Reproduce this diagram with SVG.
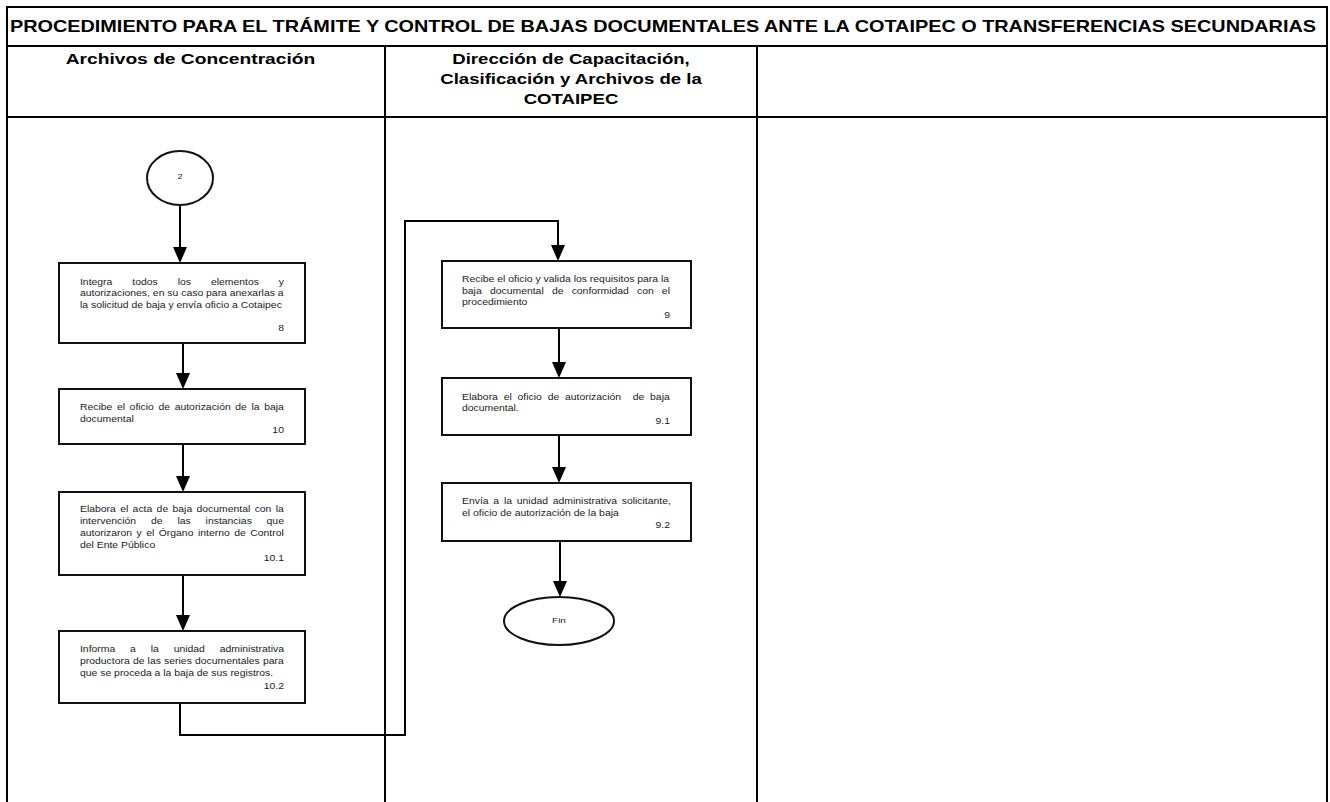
<svg xmlns="http://www.w3.org/2000/svg" width="1330" height="802" viewBox="0 0 1330 802">
<style>
.frame{fill:none;stroke:#000;stroke-width:2}
.box{fill:#fff;stroke:#111;stroke-width:2}
.conn{fill:none;stroke:#000;stroke-width:2}
.t{font-family:"Liberation Sans",Arial,sans-serif;font-size:8.4px;fill:#1a1a1a}
.n{font-family:"Liberation Sans",Arial,sans-serif;font-size:8.4px;fill:#1a1a1a;text-anchor:end}
.h{font-family:"Liberation Sans",Arial,sans-serif;font-weight:bold;fill:#000;text-anchor:middle}
.s{font-family:"Liberation Sans",Arial,sans-serif;fill:#1a1a1a;text-anchor:middle}
</style>
<defs>
<marker id="ah" markerUnits="userSpaceOnUse" viewBox="0 0 16 14" markerWidth="16" markerHeight="14" refX="8" refY="7" orient="auto">
<path d="M0,0 L16,7 L0,14 z" fill="#000"/>
</marker>
</defs>
<rect width="1330" height="802" fill="#fff"/>
<g id="frame">
<path class="frame" d="M7,802 V7 H1327 V802"/>
<line class="frame" x1="7" y1="46" x2="1327" y2="46"/>
<line class="frame" x1="7" y1="117" x2="1327" y2="117"/>
<line class="frame" x1="385" y1="46" x2="385" y2="802"/>
<line class="frame" x1="757" y1="46" x2="757" y2="802"/>
<text class="h" x="663" y="32" font-size="16.5" textLength="1306" lengthAdjust="spacingAndGlyphs">PROCEDIMIENTO PARA EL TRÁMITE Y CONTROL DE BAJAS DOCUMENTALES ANTE LA COTAIPEC O TRANSFERENCIAS SECUNDARIAS</text>
<g transform="matrix(1.24 0 0 1 0 0)">
<text class="h" x="153.6" y="64" font-size="15.5">Archivos de Concentración</text>
<text class="h" x="460.5" y="64" font-size="15">Dirección de Capacitación,</text>
<text class="h" x="460.5" y="84" font-size="15">Clasificación y Archivos de la</text>
<text class="h" x="460.5" y="104" font-size="15">COTAIPEC</text>
</g>
</g>
<g id="connectors">
<path class="conn" d="M180,205 V255" marker-end="url(#ah)"/>
<path class="conn" d="M183,343 V381" marker-end="url(#ah)"/>
<path class="conn" d="M183,444 V484" marker-end="url(#ah)"/>
<path class="conn" d="M183,575 V623" marker-end="url(#ah)"/>
<path class="conn" d="M180,703 V735 H405 V221 H558 V253" marker-end="url(#ah)"/>
<path class="conn" d="M559,328 V370" marker-end="url(#ah)"/>
<path class="conn" d="M559,435 V475" marker-end="url(#ah)"/>
<path class="conn" d="M560,541 V589" marker-end="url(#ah)"/>
</g>
<g id="start">
<ellipse class="box" cx="180" cy="178" rx="33" ry="27"/>
<text class="s" transform="matrix(1.24 0 0 1 0 0)" x="145.2" y="179" font-size="7.5">2</text>
</g>
<g id="step8">
<rect class="box" x="59" y="263" width="246" height="80"/>
<g transform="matrix(1.24 0 0 1 0 0)">
<text class="t" y="285"><tspan x="64.5">Integra</tspan><tspan x="106.7">todos</tspan><tspan x="143.3">los</tspan><tspan x="170.1">elementos</tspan><tspan x="229" text-anchor="end">y</tspan></text>
<text class="t" x="64.5" y="296.5">autorizaciones, en su caso para anexarlas a</text>
<text class="t" x="64.5" y="308">la solicitud de baja y envía oficio a Cotaipec</text>
<text class="n" x="229" y="331">8</text>
</g>
</g>
<g id="step10">
<rect class="box" x="59" y="389" width="246" height="55"/>
<g transform="matrix(1.24 0 0 1 0 0)">
<text class="t" x="64.5" y="410" word-spacing="1.36">Recibe el oficio de autorización de la baja</text>
<text class="t" x="64.5" y="422">documental</text>
<text class="n" x="229" y="433">10</text>
</g>
</g>
<g id="step10_1">
<rect class="box" x="59" y="492" width="246" height="83"/>
<g transform="matrix(1.24 0 0 1 0 0)">
<text class="t" x="64.5" y="512" word-spacing="1.16">Elabora el acta de baja documental con la</text>
<text class="t" y="524"><tspan x="64.5">intervención</tspan><tspan x="121.8">de</tspan><tspan x="143.1">las</tspan><tspan x="165.8">instancias</tspan><tspan x="229" text-anchor="end">que</tspan></text>
<text class="t" x="64.5" y="536" word-spacing="1.27">autorizaron y el Órgano interno de Control</text>
<text class="t" x="64.5" y="548">del Ente Público</text>
<text class="n" x="229" y="561">10.1</text>
</g>
</g>
<g id="step10_2">
<rect class="box" x="59" y="631" width="246" height="72"/>
<g transform="matrix(1.24 0 0 1 0 0)">
<text class="t" y="652"><tspan x="64.5">Informa</tspan><tspan x="104.95">a</tspan><tspan x="121.6">la</tspan><tspan x="140.05">unidad</tspan><tspan x="229" text-anchor="end">administrativa</tspan></text>
<text class="t" x="64.5" y="664" word-spacing="0.22">productora de las series documentales para</text>
<text class="t" x="64.5" y="676">que se proceda a la baja de sus registros.</text>
<text class="n" x="229" y="689">10.2</text>
</g>
</g>
<g id="step9">
<rect class="box" x="442" y="261" width="249" height="67"/>
<g transform="matrix(1.24 0 0 1 0 0)">
<text class="t" x="372.6" y="282">Recibe el oficio y valida los requisitos para la</text>
<text class="t" y="294"><tspan x="372.6">baja</tspan><tspan x="395.1">documental</tspan><tspan x="445.1">de</tspan><tspan x="461">conformidad</tspan><tspan x="513.8">con</tspan><tspan x="540.3" text-anchor="end">el</tspan></text>
<text class="t" x="372.6" y="305">procedimiento</text>
<text class="n" x="540.3" y="318">9</text>
</g>
</g>
<g id="step9_1">
<rect class="box" x="442" y="378" width="249" height="57"/>
<g transform="matrix(1.24 0 0 1 0 0)">
<text class="t" x="372.6" y="400" word-spacing="2.34">Elabora el oficio de autorización&#160; de baja</text>
<text class="t" x="372.6" y="411">documental.</text>
<text class="n" x="540.3" y="424">9.1</text>
</g>
</g>
<g id="step9_2">
<rect class="box" x="442" y="483" width="249" height="58"/>
<g transform="matrix(1.24 0 0 1 0 0)">
<text class="t" x="372.6" y="504" word-spacing="1.5">Envía a la unidad administrativa solicitante,</text>
<text class="t" x="372.6" y="516">el oficio de autorización de la baja</text>
<text class="n" x="540.3" y="528">9.2</text>
</g>
</g>
<g id="end">
<ellipse class="box" cx="559" cy="621" rx="55" ry="24"/>
<text class="s" transform="matrix(1.24 0 0 1 0 0)" x="450.8" y="623.5" font-size="8">Fin</text>
</g>
</svg>
